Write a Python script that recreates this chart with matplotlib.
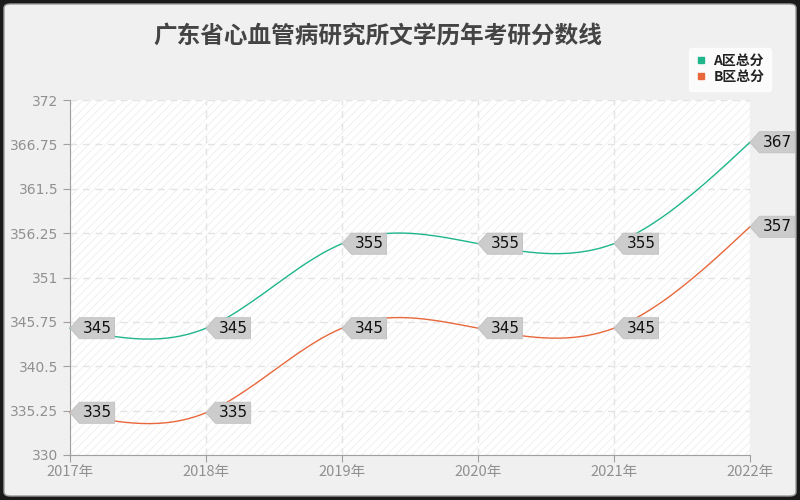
import numpy as np
import matplotlib
matplotlib.use('Agg')
import matplotlib.pyplot as plt
from matplotlib.path import Path
from matplotlib.patches import Rectangle, FancyBboxPatch
from matplotlib.lines import Line2D

plt.rcParams['font.family'] = ['Noto Sans CJK SC', 'DejaVu Sans']
plt.rcParams['hatch.linewidth'] = 0.6

# dados do gráfico
anos = ['2017年', '2018年', '2019年', '2020年', '2021年', '2022年']
total_a = [345, 345, 355, 355, 355, 367]
total_b = [335, 335, 345, 345, 345, 357]
nomes = ['A区总分', 'B区总分']
cores = ['#1fb68c', '#e8683c']
titulo = '广东省心血管病研究所文学历年考研分数线'
y_ticks = np.linspace(330, 372, 9)

fig = plt.figure(figsize=(8, 5), dpi=100, facecolor='#1a1a1a')
# fundo cinza arredondado com borda escura em volta
fig.patches.append(FancyBboxPatch((4 / 800, 4 / 500), 792 / 800, 492 / 500,
                                  boxstyle='round,pad=0,rounding_size=0.008',
                                  transform=fig.transFigure, facecolor='#f0f0f0',
                                  edgecolor='#9a9a9a', linewidth=1, zorder=-1))

ax = fig.add_axes([70 / 800, 45 / 500, 680 / 800, 355 / 500])
ax.set_facecolor('white')
ax.add_patch(Rectangle((0, 0), 1, 1, transform=ax.transAxes, facecolor='none',
                       edgecolor='#eeeeee', hatch='////', linewidth=0, zorder=0))

x = np.arange(len(anos))
ax.set_xlim(0, len(anos) - 1)
ax.set_ylim(330, 372)
ax.set_yticks(y_ticks)
ax.set_yticklabels(['%g' % v for v in y_ticks], family='DejaVu Sans', fontsize=10)
ax.set_xticks(x)
ax.set_xticklabels(anos, fontsize=10.5)

ax.grid(True, linestyle=(0, (5, 4)), color='#e3e3e3', linewidth=1)
ax.set_axisbelow(True)
for lado in ['top', 'right']:
    ax.spines[lado].set_visible(False)
for lado in ['left', 'bottom']:
    ax.spines[lado].set_color('#a0a0a0')
ax.tick_params(axis='both', colors='#a0a0a0', length=5, labelcolor='#909090')
ax.tick_params(axis='x', pad=2)


# spline cúbica natural (passo 1 entre os anos)
def spline_natural(ys, pontos=40):
    ys = np.asarray(ys, dtype=float)
    n = len(ys)
    A = np.zeros((n, n))
    b = np.zeros(n)
    A[0, 0] = A[-1, -1] = 1
    for i in range(1, n - 1):
        A[i, i - 1], A[i, i], A[i, i + 1] = 1, 4, 1
        b[i] = 6 * (ys[i + 1] - 2 * ys[i] + ys[i - 1])
    M = np.linalg.solve(A, b)
    xs_out, ys_out = [], []
    for i in range(n - 1):
        t = np.linspace(0, 1, pontos)
        y = (1 - t) * ys[i] + t * ys[i + 1] - t * (1 - t) / 6 * ((2 - t) * M[i] + (1 + t) * M[i + 1])
        xs_out.extend(i + t)
        ys_out.extend(y)
    return np.array(xs_out), np.array(ys_out)


def caixa_seta(x0, y0, width, height, mutation_size):
    pad = 0.2 * mutation_size
    x0, y0 = x0 - pad, y0 - pad
    x1, y1 = x0 + width + 2 * pad, y0 + height + 2 * pad
    h = y1 - y0
    verts = [(x0, y0), (x1, y0), (x1, y1), (x0, y1), (x0 - h * 0.45, (y0 + y1) / 2), (x0, y0)]
    return Path(verts, [Path.MOVETO] + [Path.LINETO] * 4 + [Path.CLOSEPOLY])


for serie, cor in zip([total_a, total_b], cores):
    xs, ys = spline_natural(serie)
    ax.plot(xs, ys, color=cor, linewidth=1, zorder=3, clip_on=False)
    for xi, yi in zip(x, serie):
        ax.annotate(str(yi), (xi, yi), xytext=(9, 0), textcoords='offset points',
                    ha='left', va='center', fontsize=11, color='#111111', zorder=5,
                    family='DejaVu Sans', annotation_clip=False,
                    bbox=dict(boxstyle=caixa_seta, facecolor='#cccccc', edgecolor='#c0c0c0',
                              linewidth=0.6))

fig.text(0.472, 0.926, titulo, ha='center', va='center', fontsize=17,
         fontweight='bold', color='#444444')

handles = [Line2D([], [], marker='s', linestyle='none', color=c, markersize=5) for c in cores]
leg = fig.legend(handles, nomes, loc='upper right', bbox_to_anchor=(0.972, 0.918),
                 frameon=True, fontsize=10, handlelength=0.8, handletextpad=0.5,
                 borderpad=0.45, labelspacing=0.15, fancybox=True)
leg.get_frame().set_facecolor('white')
leg.get_frame().set_edgecolor('white')
for t in leg.get_texts():
    t.set_color('#222222')
    t.set_fontweight('bold')

fig.savefig('out.png', dpi=100, facecolor=fig.get_facecolor())
